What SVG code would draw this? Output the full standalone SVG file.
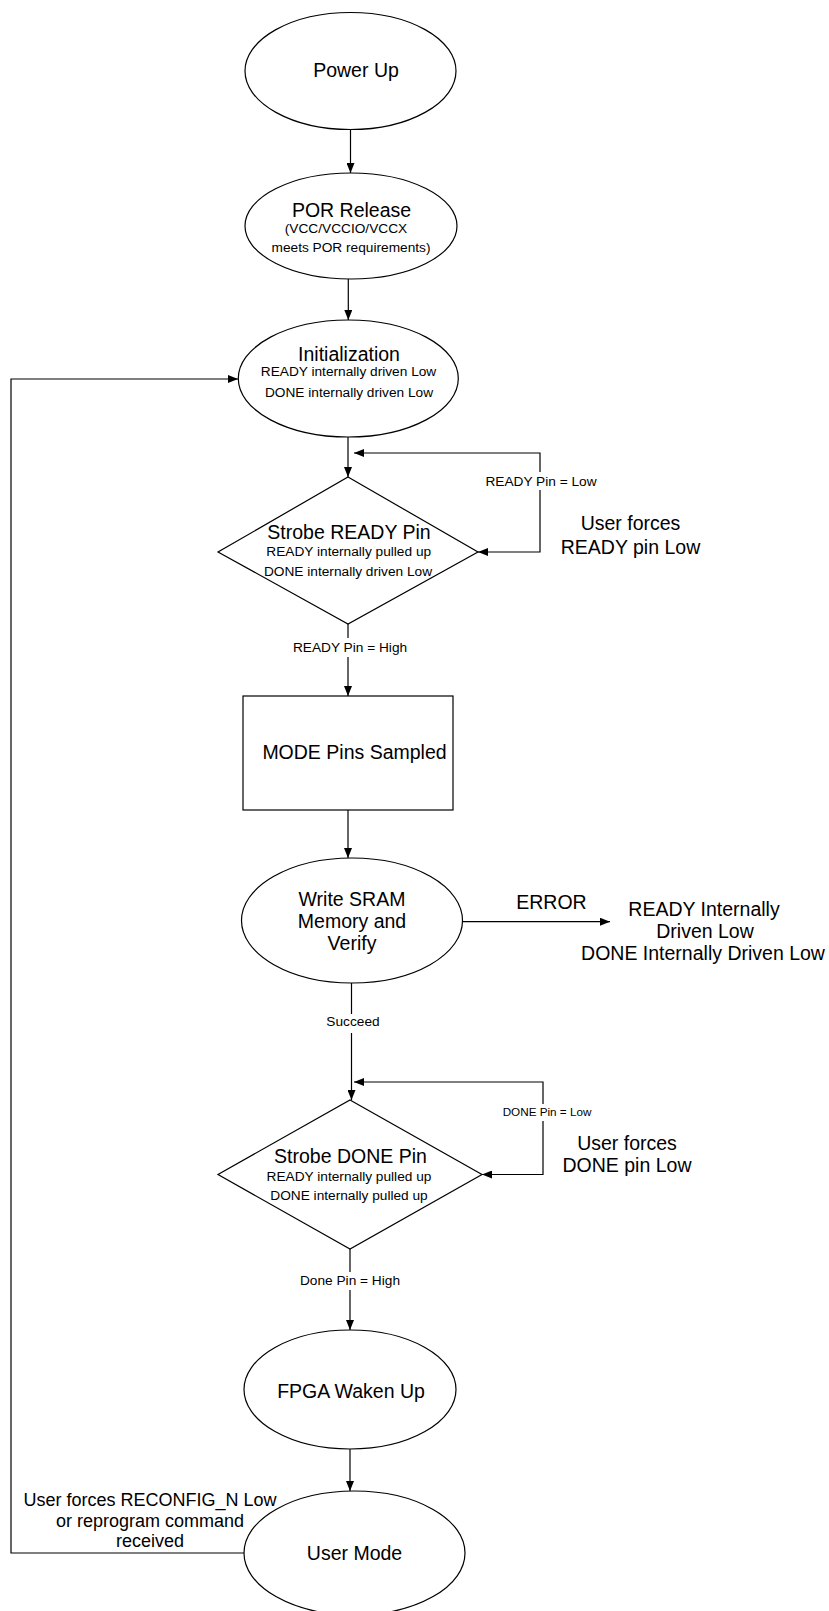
<svg xmlns="http://www.w3.org/2000/svg" width="829" height="1611" viewBox="0 0 829 1611">
<style>
.shape{fill:#fff;stroke:#000;stroke-width:1.2}
.conn{fill:none;stroke:#000;stroke-width:1.2}
text{font-family:"Liberation Sans",Arial,sans-serif;fill:#000;text-anchor:middle}
.t{font-size:19.5px}
.s{font-size:13.7px}
.m{font-size:18px}
.xs{font-size:11.7px}
.bg{fill:#fff;stroke:none}
</style>
<defs>
<marker id="arr" markerWidth="10" markerHeight="8" refX="10" refY="4" orient="auto" markerUnits="userSpaceOnUse"><path d="M0,0 L10,4 L0,8 z" fill="#000"/></marker>
</defs>
<rect width="829" height="1611" fill="#fff"/>
<g id="connectors">
<path class="conn" d="M350.5,129.5 L350.5,173" marker-end="url(#arr)"/>
<path class="conn" d="M348.3,279 L348.3,320" marker-end="url(#arr)"/>
<path class="conn" d="M348,437 L348,477" marker-end="url(#arr)"/>
<path class="conn" d="M540,500 L540,453 L354,453" marker-end="url(#arr)"/>
<path class="conn" d="M540,500 L540,552 L478,552" marker-end="url(#arr)"/>
<rect class="bg" x="484" y="472" width="114" height="18"/>
<text class="s" x="541" y="486">READY Pin = Low</text>
<path class="conn" d="M348,624 L348,696" marker-end="url(#arr)"/>
<rect class="bg" x="290" y="638" width="120" height="19"/>
<text class="s" x="350" y="652">READY Pin = High</text>
<path class="conn" d="M348,810 L348,858" marker-end="url(#arr)"/>
<path class="conn" d="M463,921.7 L610,921.7" marker-end="url(#arr)"/>
<path class="conn" d="M351.5,983 L351.5,1100" marker-end="url(#arr)"/>
<rect class="bg" x="322" y="1014" width="62" height="19"/>
<text class="s" x="353" y="1026">Succeed</text>
<path class="conn" d="M543,1128 L543,1082 L354,1082" marker-end="url(#arr)"/>
<path class="conn" d="M543,1128 L543,1174.5 L482,1174.5" marker-end="url(#arr)"/>
<rect class="bg" x="502" y="1104" width="90" height="17"/>
<text class="xs" x="547" y="1116">DONE Pin = Low</text>
<path class="conn" d="M350,1249 L350,1330" marker-end="url(#arr)"/>
<rect class="bg" x="297" y="1272" width="106" height="18"/>
<text class="s" x="350" y="1285">Done Pin = High</text>
<path class="conn" d="M350,1449 L350,1491" marker-end="url(#arr)"/>
<path class="conn" d="M245,1553 L11,1553 L11,379 L238,379" marker-end="url(#arr)"/>
</g>
<g id="power-up">
<ellipse class="shape" cx="350.5" cy="71" rx="105.5" ry="58.5"/>
<text class="t" x="356" y="77">Power Up</text>
</g>
<g id="por-release">
<ellipse class="shape" cx="351" cy="226" rx="106" ry="53"/>
<text class="t" x="351.5" y="217">POR Release</text>
<text class="s" x="346" y="233">(VCC/VCCIO/VCCX</text>
<text class="s" x="351" y="252">meets POR requirements)</text>
</g>
<g id="initialization">
<ellipse class="shape" cx="348.3" cy="378.5" rx="110" ry="58.5"/>
<text class="t" x="349" y="361">Initialization</text>
<text class="s" x="348.5" y="376">READY internally driven Low</text>
<text class="s" x="349" y="397">DONE internally driven Low</text>
</g>
<g id="strobe-ready">
<polygon class="shape" points="348,477 478,552 348,624 218,552"/>
<text class="t" x="349" y="539">Strobe READY Pin</text>
<text class="s" x="348.7" y="556">READY internally pulled up</text>
<text class="s" x="348" y="576">DONE internally driven Low</text>
</g>
<g id="user-forces-ready">
<text class="t" x="630.5" y="530">User forces</text>
<text class="t" x="630.5" y="554">READY pin Low</text>
</g>
<g id="mode-pins">
<rect class="shape" x="243" y="696" width="210" height="114"/>
<text class="t" x="354.5" y="759">MODE Pins Sampled</text>
</g>
<g id="write-sram">
<ellipse class="shape" cx="352" cy="920.5" rx="110.5" ry="62.5"/>
<text class="t" x="352" y="906">Write SRAM</text>
<text class="t" x="352" y="928">Memory and</text>
<text class="t" x="352" y="950">Verify</text>
</g>
<g id="error">
<text class="t" x="551.5" y="909">ERROR</text>
</g>
<g id="error-state">
<text class="t" x="704" y="916">READY Internally</text>
<text class="t" x="705" y="938">Driven Low</text>
<text class="t" x="703" y="960">DONE Internally Driven Low</text>
</g>
<g id="strobe-done">
<polygon class="shape" points="350,1100 482,1174.5 350,1249 218,1174.5"/>
<text class="t" x="350.5" y="1163">Strobe DONE Pin</text>
<text class="s" x="349" y="1181">READY internally pulled up</text>
<text class="s" x="349" y="1200">DONE internally pulled up</text>
</g>
<g id="user-forces-done">
<text class="t" x="627" y="1150">User forces</text>
<text class="t" x="627" y="1172">DONE pin Low</text>
</g>
<g id="fpga-waken">
<ellipse class="shape" cx="350" cy="1389.5" rx="106" ry="59.5"/>
<text class="t" x="351" y="1398">FPGA Waken Up</text>
</g>
<g id="user-mode">
<ellipse class="shape" cx="354.5" cy="1553" rx="110.5" ry="62"/>
<text class="t" x="354.5" y="1560">User Mode</text>
</g>
<g id="reconfig-label">
<text class="m" x="150" y="1506">User forces RECONFIG_N Low</text>
<text class="m" x="150" y="1527">or reprogram command</text>
<text class="m" x="150" y="1547">received</text>
</g>
</svg>
